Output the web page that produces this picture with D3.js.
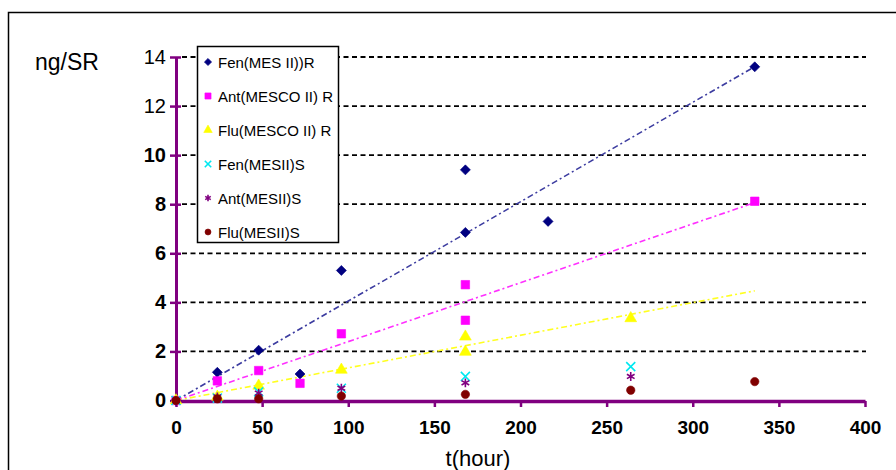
<!DOCTYPE html>
<html>
<head>
<meta charset="utf-8">
<script src="https://cdn.jsdelivr.net/npm/d3@7/dist/d3.min.js"></script>
<style>
  html, body { margin: 0; padding: 0; background: #fff; }
  svg { display: block; font-family: Arial, "Liberation Sans", sans-serif; }
</style>
</head>
<body>
<svg id="chart" width="896" height="470"></svg>
<script>
// Sampling times (hours) and measured amounts (ng/SR) per series
const fenR_t = [0, 24, 48, 72, 96, 168, 168, 216, 336];
const fenR   = [0, 1.15, 2.05, 1.08, 5.3, 9.4, 6.85, 7.3, 13.6];

const antR_t = [0, 24, 48, 72, 96, 168, 168, 336];
const antR   = [0, 0.8, 1.22, 0.7, 2.72, 4.72, 3.27, 8.12];

const fluR_t = [0, 24, 48, 96, 168, 168, 264];
const fluR   = [0, 0.15, 0.6, 1.25, 2.6, 1.98, 3.35];

const fenS_t = [0, 24, 48, 96, 168, 264];
const fenS   = [0, 0.1, 0.35, 0.5, 0.98, 1.38];

const antS_t = [0, 24, 48, 96, 168, 264];
const antS   = [0, 0.15, 0.3, 0.5, 0.72, 0.98];

const fluS_t = [0, 24, 48, 96, 168, 264, 336];
const fluS   = [0, 0.07, 0.07, 0.18, 0.25, 0.42, 0.77];

const seriesNames = ["Fen(MES II))R", "Ant(MESCO II) R", "Flu(MESCO II) R",
                     "Fen(MESII)S", "Ant(MESII)S", "Flu(MESII)S"];

// Linear trend lines (slope per hour, intercept) for the three R series
const trendSlopes     = [0.0405, 0.024, 0.0133];
const trendIntercepts = [0, 0, 0];
const trendRange      = [0, 336];

const xTicks = [0, 50, 100, 150, 200, 250, 300, 350, 400];
const yTicks = [0, 2, 4, 6, 8, 10, 12, 14];

const svg = d3.select("#chart");
const x = d3.scaleLinear().domain([0, 400]).range([176, 865]);
const y = d3.scaleLinear().domain([0, 14]).range([400.5, 57]);

const AXIS = "#800080";

// outer frame
svg.append("rect").attr("x", 8.5).attr("y", 12.5).attr("width", 900).attr("height", 470)
  .attr("fill", "#fff").attr("stroke", "#000").attr("stroke-width", 1.5);

// horizontal dashed gridlines
svg.append("g").selectAll("line").data(yTicks.filter(d => d > 0)).join("line")
  .attr("x1", 182).attr("x2", 866)
  .attr("y1", d => y(d)).attr("y2", d => y(d))
  .attr("stroke", "#000").attr("stroke-width", 1.8).attr("stroke-dasharray", "5,3.5");

// series definitions
const series = [
  { name: seriesNames[0], t: fenR_t, v: fenR, color: "#000080", type: "diamond" },
  { name: seriesNames[1], t: antR_t, v: antR, color: "#ff00ff", type: "square" },
  { name: seriesNames[2], t: fluR_t, v: fluR, color: "#ffff00", type: "triangle" },
  { name: seriesNames[3], t: fenS_t, v: fenS, color: "#00e8f0", type: "x" },
  { name: seriesNames[4], t: antS_t, v: antS, color: "#800080", type: "asterisk" },
  { name: seriesNames[5], t: fluS_t, v: fluS, color: "#800000", type: "circle" }
];
const trendColors = ["#3c3ca0", "#ff30ff", "#ffff20"];

function markerPath(type, s) {
  const k = s * s;
  switch (type) {
    case "diamond":  return d3.symbol().type(d3.symbolSquare).size(k * 50)();
    case "square":   return d3.symbol().type(d3.symbolSquare).size(k * 72)();
    case "triangle": return d3.symbol().type(d3.symbolTriangle).size(k * 60)();
    case "x":        return d3.symbol().type(d3.symbolX).size(k * 55)();
    case "asterisk": return d3.symbol().type(d3.symbolAsterisk).size(k * 55)();
    case "circle":   return d3.symbol().type(d3.symbolCircle).size(k * 55)();
  }
}
function drawMarker(sel, d, s) {
  const stroked = d.type === "x" || d.type === "asterisk";
  sel.attr("d", markerPath(d.type, s))
    .attr("fill", stroked ? "none" : d.color)
    .attr("stroke", d.color)
    .attr("stroke-width", stroked ? 1.6 : 0.6);
}

// trend lines
const trendG = svg.append("g");
trendSlopes.forEach((m, i) => {
  const b = trendIntercepts[i];
  trendG.append("line")
    .attr("x1", x(trendRange[0])).attr("y1", y(m * trendRange[0] + b))
    .attr("x2", x(trendRange[1])).attr("y2", y(m * trendRange[1] + b))
    .attr("stroke", trendColors[i]).attr("stroke-width", 1.6)
    .attr("stroke-dasharray", "6,3,2,3");
});

// axes
const yAxis = d3.axisLeft(y).tickValues(yTicks).tickSize(6).tickSizeOuter(0).tickPadding(4);
const gy = svg.append("g").attr("transform", "translate(176,0)").call(yAxis);
gy.select(".domain").attr("stroke", AXIS).attr("stroke-width", 3);
gy.selectAll(".tick line").attr("stroke", AXIS).attr("stroke-width", 2.5).attr("x1", 5);
gy.selectAll(".tick text").attr("fill", "#000").attr("font-size", 20)
  .attr("font-weight", d => d >= 12 ? "normal" : "bold");

const xAxis = d3.axisBottom(x).tickValues(xTicks).tickSize(6).tickSizeOuter(0).tickPadding(14);
const gx = svg.append("g").attr("transform", "translate(0,401)").call(xAxis);
gx.select(".domain").attr("stroke", AXIS).attr("stroke-width", 3.5);
gx.selectAll(".tick line").attr("stroke", AXIS).attr("stroke-width", 2.5);
gx.selectAll(".tick text").attr("fill", "#000").attr("font-size", 19).attr("font-weight", "bold");

// data markers
series.forEach(s => {
  svg.append("g").selectAll("path").data(s.t.map((t, i) => ({ t, v: s.v[i] }))).join("path")
    .each(function () { drawMarker(d3.select(this), s, 1); })
    .attr("transform", p => {
      const r = s.type === "diamond" ? " rotate(45)" : "";
      return `translate(${x(p.t)},${y(p.v)})${r}`;
    });
});

// axis titles
svg.append("text").attr("x", 35).attr("y", 70).attr("font-size", 23).attr("fill", "#000").text("ng/SR");
svg.append("text").attr("x", 478).attr("y", 466).attr("text-anchor", "middle")
  .attr("font-size", 22).attr("fill", "#000").text("t(hour)");

// legend
const lg = svg.append("g");
lg.append("rect").attr("x", 197.5).attr("y", 46.5).attr("width", 141).attr("height", 196)
  .attr("fill", "#fff").attr("stroke", "#000").attr("stroke-width", 1.5);
const legendY = d3.scaleLinear().domain([0, 5]).range([62, 232]);
series.forEach((s, i) => {
  const cy = legendY(i);
  lg.append("path").call(sel => drawMarker(sel, s, 0.72))
    .attr("transform", `translate(208,${cy})${s.type === "diamond" ? " rotate(45)" : ""}`);
  lg.append("text").attr("x", 218).attr("y", cy + 5.5).attr("font-size", 15)
    .attr("fill", "#000").text(s.name);
});
</script>
</body>
</html>
